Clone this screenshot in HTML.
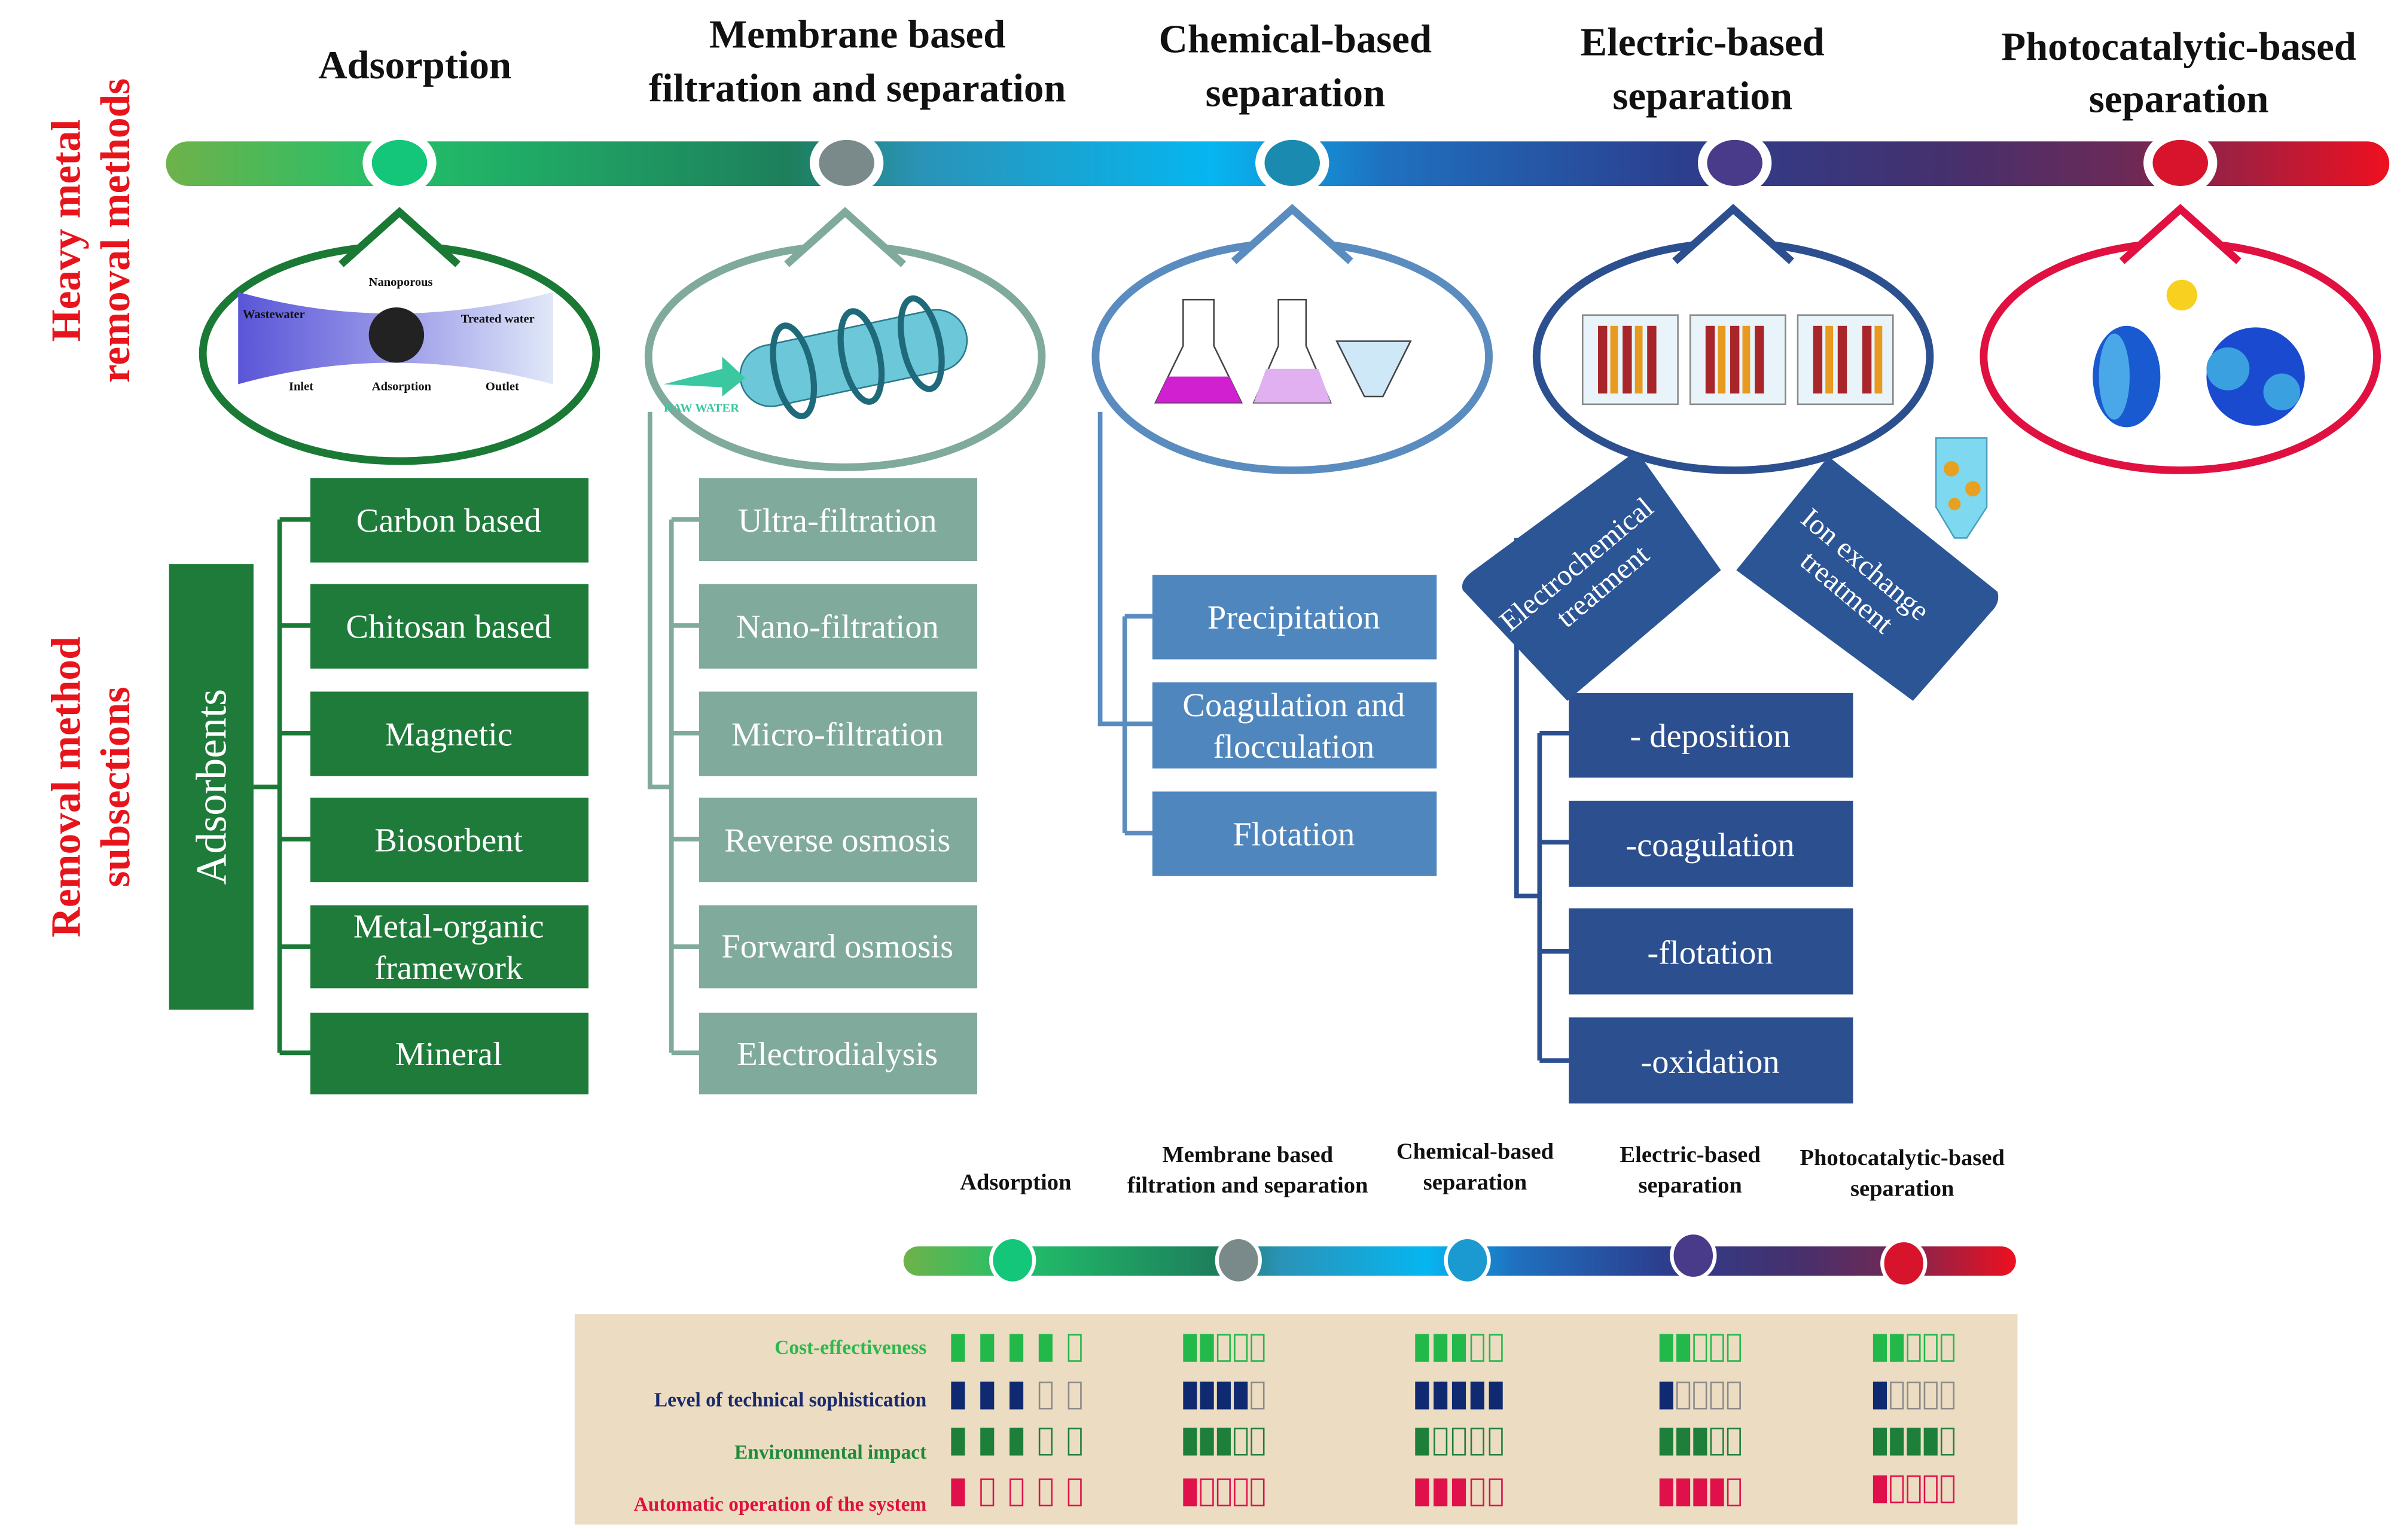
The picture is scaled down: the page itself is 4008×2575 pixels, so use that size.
<!DOCTYPE html>
<html><head><meta charset="utf-8"><style>
html,body{margin:0;padding:0;background:#fff}
svg{display:block}
text{font-family:"Liberation Serif",serif}
</style></head><body>
<svg width="4008" height="2575" viewBox="0 0 1560 1002" preserveAspectRatio="none" xmlns="http://www.w3.org/2000/svg">
<defs>
<linearGradient id="bar" x1="108" x2="1555" y1="0" y2="0" gradientUnits="userSpaceOnUse">
<stop offset="0" stop-color="#6fb24a"/><stop offset="0.1" stop-color="#22c06a"/><stop offset="0.28" stop-color="#1d7f5c"/><stop offset="0.34" stop-color="#2a93b8"/><stop offset="0.47" stop-color="#06b6f0"/><stop offset="0.55" stop-color="#1f70bf"/><stop offset="0.68" stop-color="#2c3f8f"/><stop offset="0.8" stop-color="#45306e"/><stop offset="0.88" stop-color="#6a2a58"/><stop offset="1" stop-color="#ee1020"/>
</linearGradient>
<linearGradient id="bar2" x1="588" x2="1312" y1="0" y2="0" gradientUnits="userSpaceOnUse">
<stop offset="0" stop-color="#6fb24a"/><stop offset="0.1" stop-color="#22c06a"/><stop offset="0.28" stop-color="#1d7f5c"/><stop offset="0.34" stop-color="#2a93b8"/><stop offset="0.47" stop-color="#06b6f0"/><stop offset="0.55" stop-color="#1f70bf"/><stop offset="0.68" stop-color="#2c3f8f"/><stop offset="0.8" stop-color="#45306e"/><stop offset="0.88" stop-color="#6a2a58"/><stop offset="1" stop-color="#ee1020"/>
</linearGradient>
<linearGradient id="ads" x1="0" x2="1"><stop offset="0" stop-color="#5a55d8"/><stop offset="0.5" stop-color="#9a9ae8"/><stop offset="1" stop-color="#e0e8f8"/></linearGradient>
</defs>

<g fill="#e8141c" font-weight="bold" font-size="27" text-anchor="middle">
<text transform="translate(52,150) rotate(-90)">Heavy metal</text>
<text transform="translate(84,150) rotate(-90)">removal methods</text>
<text transform="translate(52,512) rotate(-90)">Removal method</text>
<text transform="translate(84,512) rotate(-90)">subsections</text>
</g>

<g font-weight="bold" font-size="26" text-anchor="middle" fill="#111">
<text x="270" y="51">Adsorption</text>
<text x="558" y="31">Membrane based</text>
<text x="558" y="66">filtration  and separation</text>
<text x="843" y="34">Chemical-based</text>
<text x="843" y="69">separation</text>
<text x="1108" y="36">Electric-based</text>
<text x="1108" y="71">separation</text>
<text x="1418" y="39">Photocatalytic-based</text>
<text x="1418" y="73">separation</text>
</g>

<rect x="108" y="92" width="1447" height="29" rx="14.5" fill="url(#bar)"/>
<g stroke="#fff" stroke-width="6">
<ellipse cx="260" cy="106" rx="21" ry="18" fill="#13c67a"/>
<ellipse cx="551" cy="106" rx="21" ry="18" fill="#7a8a8a"/>
<ellipse cx="841" cy="106" rx="21" ry="18" fill="#1a8ab0"/>
<ellipse cx="1129" cy="106" rx="21" ry="18" fill="#4a3a8a"/>
<ellipse cx="1419" cy="106" rx="21" ry="18" fill="#d8142c"/>
</g>

<g fill="#fff" stroke-width="5">
<g stroke="#1a7a35"><ellipse cx="260" cy="230" rx="128" ry="70"/><polyline points="222,172 260,138 298,172"/></g>
<g stroke="#80aa9c"><ellipse cx="550" cy="232" rx="128" ry="72"/><polyline points="512,172 550,138 588,172"/></g>
<g stroke="#5a8cc0"><ellipse cx="841" cy="232" rx="128" ry="74"/><polyline points="803,170 841,136 879,170"/></g>
<g stroke="#2c4f90"><ellipse cx="1128" cy="232" rx="128" ry="74"/><polyline points="1090,170 1128,136 1166,170"/></g>
<g stroke="#e01040"><ellipse cx="1419" cy="232" rx="128" ry="74"/><polyline points="1381,170 1419,136 1457,170"/></g>
</g>

<path d="M155,190 Q255,218 360,190 L360,250 Q255,222 155,250 Z" fill="url(#ads)"/>
<circle cx="258" cy="218" r="18" fill="#222"/>
<g font-size="8" font-weight="bold" fill="#111"><text x="158" y="207">Wastewater</text><text x="300" y="210">Treated water</text><text x="240" y="186">Nanoporous</text><text x="188" y="254">Inlet</text><text x="242" y="254">Adsorption</text><text x="316" y="254">Outlet</text></g>
<g transform="rotate(-12 560 230)"><rect x="480" y="212" width="150" height="40" rx="20" fill="#6cc8d8" stroke="#2a7a8a"/>
<ellipse cx="515" cy="232" rx="12" ry="30" fill="none" stroke="#1f6a7a" stroke-width="4"/><ellipse cx="560" cy="232" rx="12" ry="30" fill="none" stroke="#1f6a7a" stroke-width="4"/><ellipse cx="600" cy="232" rx="12" ry="30" fill="none" stroke="#1f6a7a" stroke-width="4"/></g>
<path d="M432,250 L470,240 L470,232 L485,246 L470,258 L470,252 Z" fill="#3bc8a0"/>
<text x="432" y="268" font-size="8" fill="#3bc8a0" font-weight="bold">RAW WATER</text>
<path d="M770,195 L770,225 L752,262 L808,262 L790,225 L790,195 Z" fill="#fff" stroke="#444"/><path d="M760,245 L800,245 L808,262 L752,262 Z" fill="#d020d0"/>
<path d="M832,195 L832,225 L816,262 L866,262 L850,225 L850,195 Z" fill="#fff" stroke="#444"/><path d="M824,240 L858,240 L866,262 L816,262 Z" fill="#e0b0f0"/>
<path d="M870,222 L918,222 L900,258 L888,258 Z" fill="#cfe8f8" stroke="#444"/>
<g stroke="#888" fill="#e8f4fa"><rect x="1030" y="205" width="62" height="58"/><rect x="1100" y="205" width="62" height="58"/><rect x="1170" y="205" width="62" height="58"/></g>
<g fill="#a8262a"><rect x="1040" y="212" width="6" height="44"/><rect x="1056" y="212" width="6" height="44"/><rect x="1072" y="212" width="6" height="44"/><rect x="1110" y="212" width="6" height="44"/><rect x="1126" y="212" width="6" height="44"/><rect x="1142" y="212" width="6" height="44"/><rect x="1180" y="212" width="6" height="44"/><rect x="1196" y="212" width="6" height="44"/><rect x="1212" y="212" width="6" height="44"/></g>
<g fill="#e89a20"><rect x="1048" y="212" width="5" height="44"/><rect x="1064" y="212" width="5" height="44"/><rect x="1118" y="212" width="5" height="44"/><rect x="1134" y="212" width="5" height="44"/><rect x="1188" y="212" width="5" height="44"/><rect x="1220" y="212" width="5" height="44"/></g>
<ellipse cx="1384" cy="245" rx="22" ry="33" fill="#1a5ad0"/><ellipse cx="1376" cy="245" rx="10" ry="28" fill="#4aa8e8"/>
<circle cx="1468" cy="245" r="32" fill="#1a4ad0"/><circle cx="1450" cy="240" r="14" fill="#3aa0e0"/><circle cx="1485" cy="255" r="12" fill="#3aa0e0"/>
<circle cx="1420" cy="192" r="10" fill="#f8d020"/>
<path d="M1260,285 L1293,285 L1293,330 L1280,350 L1272,350 L1260,330 Z" fill="#7ed8f0" stroke="#4aa0c0"/>
<g fill="#e8a020"><circle cx="1270" cy="305" r="5"/><circle cx="1284" cy="318" r="5"/><circle cx="1272" cy="328" r="4"/></g>

<g fill="none" stroke-width="3">
<g stroke="#1a7a35"><path d="M165,512 H182 M182,338 V685 M182,338 H202 M182,407 H202 M182,477 H202 M182,546 H202 M182,616 H202 M182,685 H202"/></g>
<g stroke="#80aa9c"><path d="M423,268 V512 H437 M437,338 V685 M437,338 H455 M437,407 H455 M437,477 H455 M437,546 H455 M437,616 H455 M437,685 H455"/></g>
<g stroke="#5a8cc0"><path d="M716,268 V471 H750 M732,401 V542 M732,401 H750 M732,542 H750"/></g>
<g stroke="#2c4f90"><path d="M987,350 V583 H1002 M1002,477 V690 M1002,477 H1021 M1002,548 H1021 M1002,619 H1021 M1002,690 H1021"/></g>
</g>

<rect x="110" y="367" width="55" height="290" fill="#1e7b3a"/>
<text transform="translate(147,512) rotate(-90)" fill="#fff" font-size="28" text-anchor="middle">Adsorbents</text>
<g fill="#1e7b3a"><rect x="202" y="311" width="181" height="55"/><rect x="202" y="380" width="181" height="55"/><rect x="202" y="450" width="181" height="55"/><rect x="202" y="519" width="181" height="55"/><rect x="202" y="589" width="181" height="54"/><rect x="202" y="659" width="181" height="53"/></g>
<g fill="#80aa9c"><rect x="455" y="311" width="181" height="54"/><rect x="455" y="380" width="181" height="55"/><rect x="455" y="450" width="181" height="55"/><rect x="455" y="519" width="181" height="55"/><rect x="455" y="589" width="181" height="54"/><rect x="455" y="659" width="181" height="53"/></g>
<g fill="#4f86bd"><rect x="750" y="374" width="185" height="55"/><rect x="750" y="444" width="185" height="56"/><rect x="750" y="515" width="185" height="55"/></g>
<g fill="#2c4f8f"><rect x="1021" y="451" width="185" height="55"/><rect x="1021" y="521" width="185" height="56"/><rect x="1021" y="591" width="185" height="56"/><rect x="1021" y="662" width="185" height="56"/></g>
<g fill="#2c5596"><path d="M1060,297 Q1065,292 1070,300 L1120,371 L1020,456 L952,384 Q950,378 958,372 Z"/><path d="M1190,297 L1300,385 Q1302,392 1296,398 L1245,456 L1130,371 Z"/></g>

<g fill="#fff" font-size="22" text-anchor="middle">
<text x="292" y="346">Carbon based</text><text x="292" y="415">Chitosan based</text><text x="292" y="485">Magnetic</text><text x="292" y="554">Biosorbent</text><text x="292" y="610">Metal-organic</text><text x="292" y="637">framework</text><text x="292" y="693">Mineral</text>
<text x="545" y="346">Ultra-filtration</text><text x="545" y="415">Nano-filtration</text><text x="545" y="485">Micro-filtration</text><text x="545" y="554">Reverse  osmosis</text><text x="545" y="623">Forward osmosis</text><text x="545" y="693">Electrodialysis</text>
<text x="842" y="409">Precipitation</text><text x="842" y="466">Coagulation and</text><text x="842" y="493">flocculation</text><text x="842" y="550">Flotation</text>
<text x="1113" y="486">- deposition</text><text x="1113" y="557">-coagulation</text><text x="1113" y="627">-flotation</text><text x="1113" y="698">-oxidation</text>
<g font-size="19"><text transform="translate(1030,372) rotate(-40)">Electrochemical</text><text transform="translate(1047,386) rotate(-40)">treatment</text>
<text transform="translate(1210,372) rotate(40)">Ion exchange</text><text transform="translate(1198,390) rotate(40)">treatment</text></g>
</g>

<g font-weight="bold" font-size="15" text-anchor="middle" fill="#111">
<text x="661" y="774">Adsorption</text>
<text x="812" y="756">Membrane based</text><text x="812" y="776">filtration and separation</text>
<text x="960" y="754">Chemical-based</text><text x="960" y="774">separation</text>
<text x="1100" y="756">Electric-based</text><text x="1100" y="776">separation</text>
<text x="1238" y="758">Photocatalytic-based</text><text x="1238" y="778">separation</text>
</g>
<rect x="588" y="811" width="724" height="19" rx="9.5" fill="url(#bar2)"/>
<g stroke="#fff" stroke-width="2.5">
<ellipse cx="659" cy="820" rx="14" ry="15" fill="#13c67a"/>
<ellipse cx="806" cy="820" rx="14" ry="15" fill="#7a8a8a"/>
<ellipse cx="955" cy="820" rx="14" ry="15" fill="#1a9ad0"/>
<ellipse cx="1102" cy="817" rx="14" ry="15" fill="#4a3a8a"/>
<ellipse cx="1239" cy="822" rx="14" ry="15" fill="#d8142c"/>
</g>

<rect x="374" y="855" width="939" height="137" fill="#ebdcc2"/>
<g font-weight="bold" font-size="13" text-anchor="end">
<text x="603" y="881" fill="#2db84d">Cost-effectiveness</text>
<text x="603" y="915" fill="#1a2a6c">Level of technical sophistication</text>
<text x="603" y="949" fill="#1e8a3a">Environmental impact</text>
<text x="603" y="983" fill="#e0103c">Automatic operation of the system</text>
</g>

<!-- row 1 -->
<g fill="#22b84a">
<rect x="619" y="868" width="9" height="18"/><rect x="638" y="868" width="9" height="18"/><rect x="657" y="868" width="9" height="18"/><rect x="676" y="868" width="9" height="18"/>
<rect x="770" y="868" width="9" height="18"/><rect x="781" y="868" width="9" height="18"/>
<rect x="921" y="868" width="9" height="18"/><rect x="933" y="868" width="9" height="18"/><rect x="945" y="868" width="9" height="18"/>
<rect x="1080" y="868" width="9" height="18"/><rect x="1091" y="868" width="9" height="18"/>
<rect x="1219" y="868" width="9" height="18"/><rect x="1230" y="868" width="9" height="18"/>
</g>
<g fill="none" stroke="#22b84a" stroke-width="1">
<rect x="695.5" y="868.5" width="8" height="17"/>
<rect x="792.5" y="868.5" width="8" height="17"/><rect x="803.5" y="868.5" width="8" height="17"/><rect x="814.5" y="868.5" width="8" height="17"/>
<rect x="957.5" y="868.5" width="8" height="17"/><rect x="969.5" y="868.5" width="8" height="17"/>
<rect x="1102.5" y="868.5" width="8" height="17"/><rect x="1113.5" y="868.5" width="8" height="17"/><rect x="1124.5" y="868.5" width="8" height="17"/>
<rect x="1241.5" y="868.5" width="8" height="17"/><rect x="1252.5" y="868.5" width="8" height="17"/><rect x="1263.5" y="868.5" width="8" height="17"/>
</g>
<!-- row 2 -->
<g fill="#0f2a70">
<rect x="619" y="899" width="9" height="18"/><rect x="638" y="899" width="9" height="18"/><rect x="657" y="899" width="9" height="18"/>
<rect x="770" y="899" width="9" height="18"/><rect x="781" y="899" width="9" height="18"/><rect x="792" y="899" width="9" height="18"/><rect x="803" y="899" width="9" height="18"/>
<rect x="921" y="899" width="9" height="18"/><rect x="933" y="899" width="9" height="18"/><rect x="945" y="899" width="9" height="18"/><rect x="957" y="899" width="9" height="18"/><rect x="969" y="899" width="9" height="18"/>
<rect x="1080" y="899" width="9" height="18"/>
<rect x="1219" y="899" width="9" height="18"/>
</g>
<g fill="none" stroke="#8a8a8a" stroke-width="1">
<rect x="676.5" y="899.5" width="8" height="17"/><rect x="695.5" y="899.5" width="8" height="17"/>
<rect x="814.5" y="899.5" width="8" height="17"/>
<rect x="1091.5" y="899.5" width="8" height="17"/><rect x="1102.5" y="899.5" width="8" height="17"/><rect x="1113.5" y="899.5" width="8" height="17"/><rect x="1124.5" y="899.5" width="8" height="17"/>
<rect x="1230.5" y="899.5" width="8" height="17"/><rect x="1241.5" y="899.5" width="8" height="17"/><rect x="1252.5" y="899.5" width="8" height="17"/><rect x="1263.5" y="899.5" width="8" height="17"/>
</g>
<!-- row 3 -->
<g fill="#1d7f3a">
<rect x="619" y="929" width="9" height="18"/><rect x="638" y="929" width="9" height="18"/><rect x="657" y="929" width="9" height="18"/>
<rect x="770" y="929" width="9" height="18"/><rect x="781" y="929" width="9" height="18"/><rect x="792" y="929" width="9" height="18"/>
<rect x="921" y="929" width="9" height="18"/>
<rect x="1080" y="929" width="9" height="18"/><rect x="1091" y="929" width="9" height="18"/><rect x="1102" y="929" width="9" height="18"/>
<rect x="1219" y="929" width="9" height="18"/><rect x="1230" y="929" width="9" height="18"/><rect x="1241" y="929" width="9" height="18"/><rect x="1252" y="929" width="9" height="18"/>
</g>
<g fill="none" stroke="#1d7f3a" stroke-width="1">
<rect x="676.5" y="929.5" width="8" height="17"/><rect x="695.5" y="929.5" width="8" height="17"/>
<rect x="803.5" y="929.5" width="8" height="17"/><rect x="814.5" y="929.5" width="8" height="17"/>
<rect x="933.5" y="929.5" width="8" height="17"/><rect x="945.5" y="929.5" width="8" height="17"/><rect x="957.5" y="929.5" width="8" height="17"/><rect x="969.5" y="929.5" width="8" height="17"/>
<rect x="1113.5" y="929.5" width="8" height="17"/><rect x="1124.5" y="929.5" width="8" height="17"/>
<rect x="1263.5" y="929.5" width="8" height="17"/>
</g>
<!-- row 4 -->
<g fill="#e0104a">
<rect x="619" y="962" width="9" height="18"/>
<rect x="770" y="962" width="9" height="18"/>
<rect x="921" y="962" width="9" height="18"/><rect x="933" y="962" width="9" height="18"/><rect x="945" y="962" width="9" height="18"/>
<rect x="1080" y="962" width="9" height="18"/><rect x="1091" y="962" width="9" height="18"/><rect x="1102" y="962" width="9" height="18"/><rect x="1113" y="962" width="9" height="18"/>
<rect x="1219" y="960" width="9" height="18"/>
</g>
<g fill="none" stroke="#e0104a" stroke-width="1">
<rect x="638.5" y="962.5" width="8" height="17"/><rect x="657.5" y="962.5" width="8" height="17"/><rect x="676.5" y="962.5" width="8" height="17"/><rect x="695.5" y="962.5" width="8" height="17"/>
<rect x="781.5" y="962.5" width="8" height="17"/><rect x="792.5" y="962.5" width="8" height="17"/><rect x="803.5" y="962.5" width="8" height="17"/><rect x="814.5" y="962.5" width="8" height="17"/>
<rect x="957.5" y="962.5" width="8" height="17"/><rect x="969.5" y="962.5" width="8" height="17"/>
<rect x="1124.5" y="962.5" width="8" height="17"/>
<rect x="1230.5" y="960.5" width="8" height="17"/><rect x="1241.5" y="960.5" width="8" height="17"/><rect x="1252.5" y="960.5" width="8" height="17"/><rect x="1263.5" y="960.5" width="8" height="17"/>
</g>
</svg>
</body></html>
